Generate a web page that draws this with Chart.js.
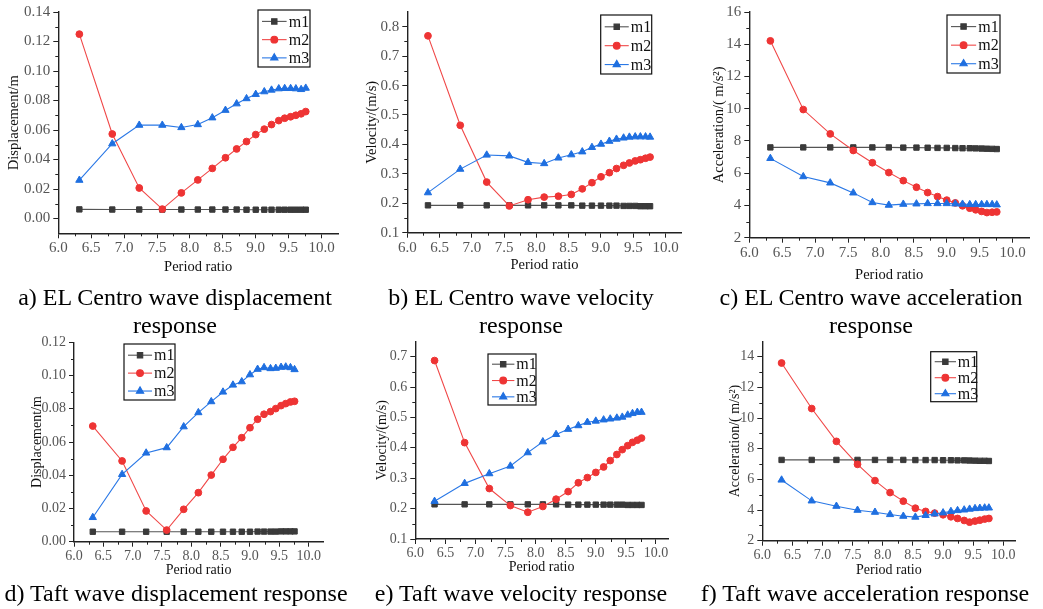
<!DOCTYPE html>
<html lang="en">
<head>
<meta charset="UTF-8">
<title>Period ratio responses</title>
<script src="https://cdn.jsdelivr.net/npm/chart.js"></script>
<style>
    body { margin: 0; background: #fff; }
    #page { position: relative; width: 1043px; height: 609px; overflow: hidden; }
    #page canvas { position: absolute; }
    .caption { position: absolute; width: 350px; font-family: "Liberation Serif", "Times New Roman", serif;
               font-size: 24px; line-height: 28px; text-align: center; color: #000; white-space: nowrap; }
</style>
</head>
<body>
<div id="page">
    <canvas id="chartA" width="345" height="282"></canvas>
    <canvas id="chartB" width="345" height="282"></canvas>
    <canvas id="chartC" width="353" height="285"></canvas>
    <canvas id="chartD" width="345" height="250"></canvas>
    <canvas id="chartE" width="345" height="250"></canvas>
    <canvas id="chartF" width="353" height="250"></canvas>

    <div class="caption" style="left:0px;top:283px">a) EL Centro wave displacement<br>response</div>
    <div class="caption" style="left:346px;top:283px">b) EL Centro wave velocity<br>response</div>
    <div class="caption" style="left:696px;top:283px">c) EL Centro wave acceleration<br>response</div>
    <div class="caption" style="left:1px;top:579px">d) Taft wave displacement response</div>
    <div class="caption" style="left:346px;top:579px">e) Taft wave velocity response</div>
    <div class="caption" style="left:690px;top:579px">f) Taft wave acceleration response</div>
</div>

<script>
    // period ratio of every point (same for all panels)
    const periodRatio = [6.32, 6.82, 7.23, 7.58, 7.87, 8.12, 8.34, 8.54, 8.71, 8.86, 9.00, 9.13, 9.24, 9.35, 9.44, 9.53, 9.61, 9.69, 9.76];
    const seriesNames = ['m1', 'm2', 'm3'];
    const xTicks = [6.0, 6.5, 7.0, 7.5, 8.0, 8.5, 9.0, 9.5, 10.0];

    // EL Centro
    const elDispM1 = [0.0062, 0.0061, 0.0061, 0.0061, 0.0061, 0.0061, 0.0061, 0.0061, 0.0061, 0.0060, 0.0060, 0.0060, 0.0060, 0.0060, 0.0060, 0.0060, 0.0060, 0.0060, 0.0060];
    const elDispM2 = [0.125, 0.0573, 0.0207, 0.0064, 0.0174, 0.0262, 0.034, 0.0412, 0.0472, 0.0522, 0.0569, 0.0606, 0.0637, 0.0664, 0.068, 0.069, 0.070, 0.071, 0.0725];
    const elDispM3 = [0.026, 0.0507, 0.0633, 0.0633, 0.0617, 0.0637, 0.0683, 0.0734, 0.0778, 0.0813, 0.0842, 0.086, 0.0871, 0.088, 0.0882, 0.0882, 0.088, 0.0875, 0.0884];

    const elVelM1 = [0.193, 0.193, 0.193, 0.193, 0.193, 0.193, 0.193, 0.193, 0.192, 0.192, 0.192, 0.192, 0.192, 0.191, 0.191, 0.191, 0.190, 0.190, 0.190];
    const elVelM2 = [0.769, 0.465, 0.272, 0.191, 0.212, 0.221, 0.224, 0.230, 0.249, 0.270, 0.290, 0.304, 0.318, 0.329, 0.337, 0.344, 0.348, 0.353, 0.357];
    const elVelM3 = [0.236, 0.316, 0.364, 0.361, 0.339, 0.335, 0.354, 0.365, 0.375, 0.390, 0.401, 0.411, 0.418, 0.422, 0.425, 0.426, 0.426, 0.426, 0.425];

    const elAccM1 = [7.60, 7.60, 7.60, 7.60, 7.60, 7.60, 7.59, 7.59, 7.58, 7.57, 7.57, 7.56, 7.55, 7.55, 7.54, 7.53, 7.52, 7.51, 7.50];
    const elAccM2 = [14.21, 9.95, 8.44, 7.41, 6.65, 6.04, 5.54, 5.13, 4.80, 4.55, 4.33, 4.16, 3.98, 3.83, 3.73, 3.63, 3.56, 3.58, 3.60];
    const elAccM3 = [6.92, 5.79, 5.40, 4.78, 4.18, 4.02, 4.08, 4.10, 4.12, 4.12, 4.12, 4.10, 4.08, 4.06, 4.06, 4.06, 4.06, 4.06, 4.04];

    // Taft
    const taftDispM1 = [0.0060, 0.0060, 0.0060, 0.0060, 0.0060, 0.0060, 0.0060, 0.0060, 0.0060, 0.0060, 0.0060, 0.0061, 0.0061, 0.0061, 0.0061, 0.0062, 0.0062, 0.0062, 0.0062];
    const taftDispM2 = [0.0696, 0.0486, 0.0185, 0.0070, 0.0195, 0.0295, 0.0401, 0.0496, 0.0568, 0.0626, 0.0686, 0.0737, 0.0767, 0.0783, 0.0801, 0.0819, 0.0831, 0.0841, 0.0845];
    const taftDispM3 = [0.0146, 0.0405, 0.0534, 0.0566, 0.0692, 0.0777, 0.0843, 0.0901, 0.0943, 0.0963, 0.1005, 0.1038, 0.1048, 0.1042, 0.1044, 0.1050, 0.1052, 0.1048, 0.1036];

    const taftVelM1 = [0.214, 0.214, 0.214, 0.214, 0.214, 0.214, 0.214, 0.213, 0.213, 0.213, 0.213, 0.213, 0.213, 0.213, 0.213, 0.212, 0.212, 0.212, 0.212];
    const taftVelM2 = [0.687, 0.417, 0.266, 0.210, 0.188, 0.207, 0.231, 0.256, 0.285, 0.302, 0.319, 0.337, 0.358, 0.378, 0.394, 0.407, 0.418, 0.425, 0.432];
    const taftVelM3 = [0.224, 0.283, 0.315, 0.340, 0.384, 0.420, 0.444, 0.461, 0.473, 0.484, 0.488, 0.492, 0.495, 0.498, 0.501, 0.508, 0.513, 0.517, 0.517];

    const taftAccM1 = [7.27, 7.27, 7.27, 7.27, 7.27, 7.27, 7.27, 7.26, 7.26, 7.26, 7.25, 7.25, 7.24, 7.24, 7.23, 7.22, 7.21, 7.21, 7.20];
    const taftAccM2 = [13.59, 10.62, 8.48, 6.98, 5.92, 5.14, 4.58, 4.12, 3.91, 3.80, 3.69, 3.56, 3.45, 3.32, 3.21, 3.28, 3.34, 3.41, 3.45];
    const taftAccM3 = [5.96, 4.60, 4.25, 3.99, 3.86, 3.71, 3.60, 3.54, 3.65, 3.75, 3.82, 3.91, 3.97, 4.01, 4.06, 4.10, 4.12, 4.14, 4.14];

    // y tick labels
    const elDispTicks = [0, 0.02, 0.04, 0.06, 0.08, 0.10, 0.12, 0.14];
    const elVelTicks = [0.1, 0.2, 0.3, 0.4, 0.5, 0.6, 0.7, 0.8];
    const elAccTicks = [2, 4, 6, 8, 10, 12, 14, 16];
    const taftDispTicks = [0, 0.02, 0.04, 0.06, 0.08, 0.10, 0.12];
    const taftVelTicks = [0.1, 0.2, 0.3, 0.4, 0.5, 0.6, 0.7];
    const taftAccTicks = [2, 4, 6, 8, 10, 12, 14];

    const SERIF = '"Liberation Serif", "Times New Roman", serif';
    const lineColors = ['#555555', '#f04848', '#2a78e6'];
    const markerColors = ['#3a3a3a', '#ee3434', '#1f6fe0'];
    const markerStyles = ['rect', 'circle', 'triangle'];
    const markerRadius = [3.8, 3.4, 4.2];

    // layout of every panel, page coordinates
    const panels = [
        { id: 'chartA', box: [0, 0, 345, 282], plot: [58.3, 7.3, 338, 233.3], xMax: 10.25, yMin: -0.01, yMax: 0.14,
          yTicks: elDispTicks, dec: 2, yTitle: 'Displacement/m', yTitleX: 14, xTitleY: 267, legend: [258, 10, 52, 57],
          tickSize: 15, titleSize: 14.5, series: [elDispM1, elDispM2, elDispM3] },
        { id: 'chartB', box: [345, 0, 345, 282], plot: [407.3, 10, 681.7, 232.7], xMax: 10.25, yMin: 0.1, yMax: 0.85,
          yTicks: elVelTicks, dec: 1, yTitle: 'Velocity/(m/s)', yTitleX: 371.7, xTitleY: 265, legend: [600.7, 15, 51, 59],
          tickSize: 15, titleSize: 14.5, series: [elVelM1, elVelM2, elVelM3] },
        { id: 'chartC', box: [690, 0, 353, 285], plot: [749.3, 11, 1029, 237.7], xMax: 10.25, yMin: 2, yMax: 16,
          yTicks: elAccTicks, dec: 0, yTitle: 'Acceleration/( m/s²)', yTitleX: 719.3, xTitleY: 275, legend: [947, 15, 53, 58],
          tickSize: 15, titleSize: 14.5, series: [elAccM1, elAccM2, elAccM3] },
        { id: 'chartD', box: [0, 330, 345, 250], plot: [74, 342.3, 323.3, 541.7], xMax: 10.25, yMin: 0, yMax: 0.12,
          yTicks: taftDispTicks, dec: 2, yTitle: 'Displacement/m', yTitleX: 37.3, xTitleY: 570, legend: [124, 344, 51, 56],
          tickSize: 14, titleSize: 14, series: [taftDispM1, taftDispM2, taftDispM3] },
        { id: 'chartE', box: [345, 330, 345, 250], plot: [415.3, 338.3, 668, 539], xMax: 10.2, yMin: 0.1, yMax: 0.75,
          yTicks: taftVelTicks, dec: 1, yTitle: 'Velocity/(m/s)', yTitleX: 382.3, xTitleY: 567.7, legend: [488, 354, 48, 51],
          tickSize: 14, titleSize: 14, series: [taftVelM1, taftVelM2, taftVelM3] },
        { id: 'chartF', box: [690, 330, 353, 250], plot: [762.3, 341, 1015.4, 540.7], xMax: 10.2, yMin: 2, yMax: 15,
          yTicks: taftAccTicks, dec: 0, yTitle: 'Acceleration/( m/s²)', yTitleX: 735, xTitleY: 570, legend: [930.7, 351.7, 46, 50],
          tickSize: 14, titleSize: 14, series: [taftAccM1, taftAccM2, taftAccM3] }
    ];

    // small ticks between the labelled ones, pointing outwards
    const minorTicks = {
        id: 'minorTicks',
        afterDraw(chart) {
            const ctx = chart.ctx;
            const x = chart.scales.x, y = chart.scales.y;
            const mids = ticks => ticks.slice(1).map((t, i) => (ticks[i].value + t.value) / 2);
            ctx.save();
            ctx.strokeStyle = '#222';
            ctx.lineWidth = 1;
            ctx.beginPath();
            mids(x.ticks).forEach(v => {
                const px = Math.round(x.getPixelForValue(v)) + 0.5;
                ctx.moveTo(px, x.top);
                ctx.lineTo(px, x.top + 3);
            });
            mids(y.ticks).forEach(v => {
                const py = Math.round(y.getPixelForValue(v)) + 0.5;
                ctx.moveTo(y.right, py);
                ctx.lineTo(y.right - 3, py);
            });
            ctx.stroke();
            ctx.restore();
        }
    };

    // boxed legend inside the plot, like the original figure
    const boxLegend = {
        id: 'boxLegend',
        afterDatasetsDraw(chart, args, opts) {
            const [bx, by, bw, bh] = opts.box;
            const ctx = chart.ctx;
            ctx.save();
            ctx.strokeStyle = '#111';
            ctx.lineWidth = 1.2;
            ctx.strokeRect(bx, by, bw, bh);
            ctx.font = opts.fontSize + 'px ' + SERIF;
            ctx.textBaseline = 'middle';
            chart.data.datasets.forEach((ds, i) => {
                const yy = by + bh * (0.2 + 0.32 * i);
                const x0 = bx + 4, x1 = bx + 0.55 * bw;
                ctx.strokeStyle = ds.borderColor;
                ctx.lineWidth = ds.borderWidth;
                ctx.beginPath();
                ctx.moveTo(x0, yy);
                ctx.lineTo(x1, yy);
                ctx.stroke();
                ctx.fillStyle = ds.pointBackgroundColor;
                ctx.strokeStyle = ds.pointBackgroundColor;
                Chart.helpers.drawPoint(ctx, { pointStyle: ds.pointStyle, radius: ds.pointRadius, borderWidth: 1, rotation: 0 }, (x0 + x1) / 2, yy);
                ctx.fillStyle = '#111';
                ctx.fillText(ds.label, bx + 0.59 * bw, yy + 1);
            });
            ctx.restore();
        }
    };

    function makeChart(p) {
        const [cx, cy, cw, ch] = p.box;
        const [pl, pt, pr, pb] = p.plot;
        const canvas = document.getElementById(p.id);
        canvas.style.left = cx + 'px';
        canvas.style.top = cy + 'px';
        const lh = p.titleSize * 1.2;

        new Chart(canvas, {
            type: 'line',
            data: {
                datasets: seriesNames.map((name, i) => ({
                    label: name,
                    data: periodRatio.map((x, j) => ({ x: x, y: p.series[i][j] })),
                    borderColor: lineColors[i],
                    borderWidth: 1.1,
                    pointStyle: markerStyles[i],
                    pointRadius: markerRadius[i],
                    pointHoverRadius: markerRadius[i],
                    pointBackgroundColor: markerColors[i],
                    pointBorderColor: markerColors[i],
                    pointBorderWidth: 1,
                    tension: 0,
                    order: 2 - i
                }))
            },
            options: {
                responsive: false,
                animation: false,
                events: [],
                layout: { autoPadding: false, padding: { left: 0, top: pt - cy, right: cx + cw - pr, bottom: 0 } },
                plugins: {
                    legend: { display: false },
                    tooltip: { enabled: false },
                    boxLegend: { box: [p.legend[0] - cx, p.legend[1] - cy, p.legend[2], p.legend[3]], fontSize: 16 }
                },
                scales: {
                    x: {
                        type: 'linear',
                        min: 6,
                        max: p.xMax,
                        afterFit: s => { s.height = cy + ch - pb; },
                        afterBuildTicks: s => { s.ticks = xTicks.map(v => ({ value: v })); },
                        ticks: { font: { family: SERIF, size: p.tickSize }, color: '#555', padding: 1, maxRotation: 0, autoSkip: false,
                                 callback: v => Number(v).toFixed(1) },
                        grid: { drawOnChartArea: false, tickLength: 5, color: '#222', tickWidth: 1 },
                        border: { color: '#222', width: 1.4 },
                        title: { display: true, text: 'Period ratio', color: '#111', font: { family: SERIF, size: p.titleSize },
                                 padding: { top: 0, bottom: cy + ch - p.xTitleY - lh / 2 } }
                    },
                    y: {
                        min: p.yMin,
                        max: p.yMax,
                        afterFit: s => { s.width = pl - cx; },
                        afterBuildTicks: s => { s.ticks = p.yTicks.map(v => ({ value: v })); },
                        ticks: { font: { family: SERIF, size: p.tickSize }, color: '#555', padding: 3, autoSkip: false,
                                 callback: v => Number(v).toFixed(p.dec) },
                        grid: { drawOnChartArea: false, tickLength: 5, color: '#222', tickWidth: 1 },
                        border: { color: '#222', width: 1.4 },
                        title: { display: true, text: p.yTitle, color: '#111', font: { family: SERIF, size: p.titleSize },
                                 padding: { top: p.yTitleX - cx - lh / 2, bottom: 0 } }
                    }
                }
            },
            plugins: [minorTicks, boxLegend]
        });
    }

    panels.forEach(makeChart);
</script>
</body>
</html>
